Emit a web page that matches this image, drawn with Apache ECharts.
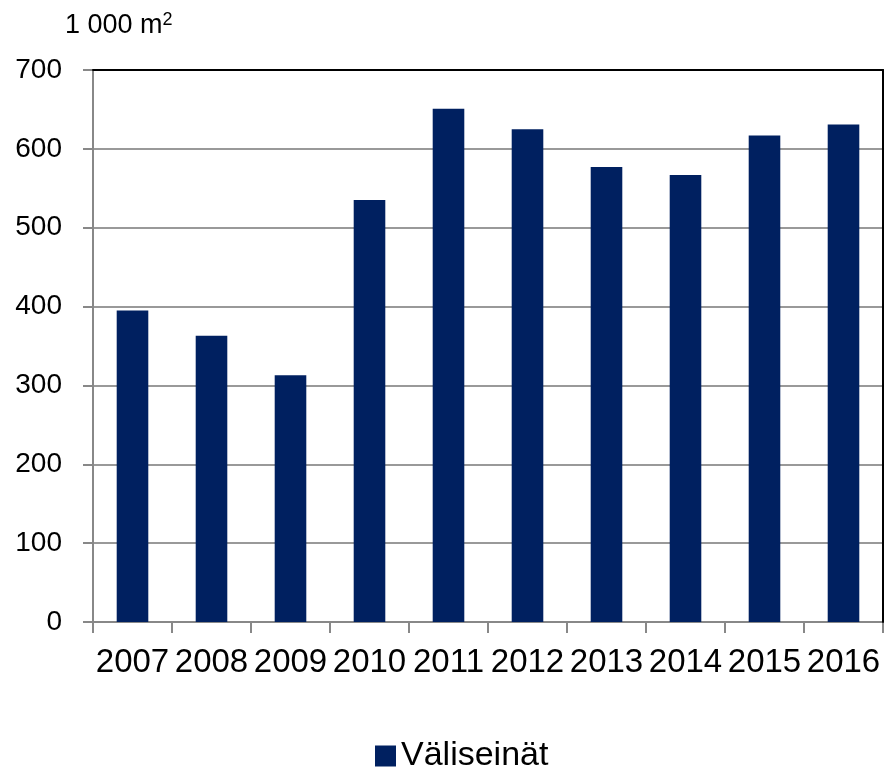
<!DOCTYPE html>
<html>
<head>
<meta charset="utf-8">
<script src="https://cdn.jsdelivr.net/npm/echarts@6/dist/echarts.min.js"></script>
<style>
  html, body { margin: 0; padding: 0; background: #fff; }
  #chart { width: 886px; height: 780px; }
</style>
</head>
<body>
<div id="chart"></div>
<script>
// data
const years = ['2007', '2008', '2009', '2010', '2011', '2012', '2013', '2014', '2015', '2016'];
const values = [395, 363, 313, 535, 651, 625, 577, 567, 617, 631];
const seriesName = 'Väliseinät';
const unitLabel = '1 000 m{sup|2}';

const chart = echarts.init(document.getElementById('chart'));
const font = '"Liberation Sans", Arial, sans-serif';

chart.setOption({
  animation: false,
  title: {
    text: unitLabel,
    left: 60,
    top: 6,
    textStyle: {
      fontFamily: font, fontSize: 27, fontWeight: 'normal', color: '#000',
      rich: {
        sup: { fontFamily: font, fontSize: 18, color: '#000', verticalAlign: 'top', padding: [0, 0, 12, 0] }
      }
    }
  },
  legend: {
    data: [seriesName],
    bottom: 2,
    left: 370,
    icon: 'rect',
    itemWidth: 21,
    itemHeight: 21,
    itemGap: 8,
    textStyle: { fontFamily: font, fontSize: 34, color: '#000' }
  },
  grid: { left: 93, right: 3, top: 70, bottom: 158 },
  xAxis: [
    {
      type: 'category',
      data: years,
      axisLine: { onZero: false, lineStyle: { color: '#888', width: 2 } },
      axisTick: { show: true, length: 11, lineStyle: { color: '#888', width: 2 } },
      axisLabel: { fontFamily: font, fontSize: 33, color: '#000', margin: 24, interval: 0 }
    },
    {
      type: 'category',
      position: 'top',
      data: years,
      z: 5,
      axisLine: { show: true, onZero: false, lineStyle: { color: '#000', width: 2 } },
      axisTick: { show: false },
      axisLabel: { show: false }
    }
  ],
  yAxis: [
    {
      type: 'value',
      min: 0,
      max: 700,
      interval: 100,
      axisLine: { show: true, onZero: false, lineStyle: { color: '#888', width: 2 } },
      axisTick: { show: true, length: 10, lineStyle: { color: '#888', width: 2 } },
      axisLabel: { fontFamily: font, fontSize: 28, color: '#000', margin: 31 },
      splitLine: { lineStyle: { color: '#999', width: 2 } }
    },
    {
      type: 'value',
      position: 'right',
      min: 0,
      max: 700,
      interval: 100,
      z: 5,
      axisLine: { show: true, onZero: false, lineStyle: { color: '#000', width: 2 } },
      axisTick: { show: false },
      axisLabel: { show: false },
      splitLine: { show: false }
    }
  ],
  series: [
    {
      name: seriesName,
      type: 'bar',
      data: values,
      barWidth: '40%',
      itemStyle: { color: '#002060' }
    },
    {
      // empty series so the top and right frame axes are drawn
      type: 'bar',
      xAxisIndex: 1,
      yAxisIndex: 1,
      data: [],
      silent: true
    }
  ]
});
</script>
</body>
</html>
